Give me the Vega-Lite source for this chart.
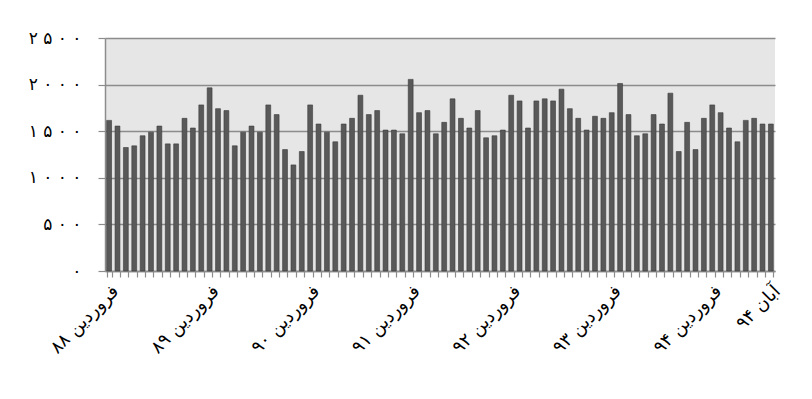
{
  "$schema": "https://vega.github.io/schema/vega-lite/v6.json",
  "width": 670,
  "height": 233,
  "autosize": "none",
  "padding": {"left": 105, "top": 38, "right": 37, "bottom": 128},
  "background": "white",
  "data": {
    "values": [
      {"month": "فروردین ۸۸", "value": 1616},
      {"month": "اردیبهشت ۸۸", "value": 1555},
      {"month": "خرداد ۸۸", "value": 1325},
      {"month": "تیر ۸۸", "value": 1343},
      {"month": "مرداد ۸۸", "value": 1451},
      {"month": "شهریور ۸۸", "value": 1490},
      {"month": "مهر ۸۸", "value": 1555},
      {"month": "آبان ۸۸", "value": 1364},
      {"month": "آذر ۸۸", "value": 1364},
      {"month": "دی ۸۸", "value": 1638},
      {"month": "بهمن ۸۸", "value": 1534},
      {"month": "اسفند ۸۸", "value": 1782},
      {"month": "فروردین ۸۹", "value": 1965},
      {"month": "اردیبهشت ۸۹", "value": 1742},
      {"month": "خرداد ۸۹", "value": 1721},
      {"month": "تیر ۸۹", "value": 1343},
      {"month": "مرداد ۸۹", "value": 1490},
      {"month": "شهریور ۸۹", "value": 1555},
      {"month": "مهر ۸۹", "value": 1490},
      {"month": "آبان ۸۹", "value": 1782},
      {"month": "آذر ۸۹", "value": 1678},
      {"month": "دی ۸۹", "value": 1303},
      {"month": "بهمن ۸۹", "value": 1138},
      {"month": "اسفند ۸۹", "value": 1282},
      {"month": "فروردین ۹۰", "value": 1782},
      {"month": "اردیبهشت ۹۰", "value": 1577},
      {"month": "خرداد ۹۰", "value": 1490},
      {"month": "تیر ۹۰", "value": 1386},
      {"month": "مرداد ۹۰", "value": 1577},
      {"month": "شهریور ۹۰", "value": 1638},
      {"month": "مهر ۹۰", "value": 1886},
      {"month": "آبان ۹۰", "value": 1678},
      {"month": "آذر ۹۰", "value": 1721},
      {"month": "دی ۹۰", "value": 1512},
      {"month": "بهمن ۹۰", "value": 1512},
      {"month": "اسفند ۹۰", "value": 1472},
      {"month": "فروردین ۹۱", "value": 2056},
      {"month": "اردیبهشت ۹۱", "value": 1699},
      {"month": "خرداد ۹۱", "value": 1721},
      {"month": "تیر ۹۱", "value": 1472},
      {"month": "مرداد ۹۱", "value": 1595},
      {"month": "شهریور ۹۱", "value": 1847},
      {"month": "مهر ۹۱", "value": 1638},
      {"month": "آبان ۹۱", "value": 1534},
      {"month": "آذر ۹۱", "value": 1721},
      {"month": "دی ۹۱", "value": 1429},
      {"month": "بهمن ۹۱", "value": 1451},
      {"month": "اسفند ۹۱", "value": 1512},
      {"month": "فروردین ۹۲", "value": 1886},
      {"month": "اردیبهشت ۹۲", "value": 1825},
      {"month": "خرداد ۹۲", "value": 1534},
      {"month": "تیر ۹۲", "value": 1825},
      {"month": "مرداد ۹۲", "value": 1847},
      {"month": "شهریور ۹۲", "value": 1825},
      {"month": "مهر ۹۲", "value": 1951},
      {"month": "آبان ۹۲", "value": 1742},
      {"month": "آذر ۹۲", "value": 1638},
      {"month": "دی ۹۲", "value": 1512},
      {"month": "بهمن ۹۲", "value": 1660},
      {"month": "اسفند ۹۲", "value": 1638},
      {"month": "فروردین ۹۳", "value": 1699},
      {"month": "اردیبهشت ۹۳", "value": 2012},
      {"month": "خرداد ۹۳", "value": 1678},
      {"month": "تیر ۹۳", "value": 1451},
      {"month": "مرداد ۹۳", "value": 1472},
      {"month": "شهریور ۹۳", "value": 1678},
      {"month": "مهر ۹۳", "value": 1577},
      {"month": "آبان ۹۳", "value": 1908},
      {"month": "آذر ۹۳", "value": 1282},
      {"month": "دی ۹۳", "value": 1595},
      {"month": "بهمن ۹۳", "value": 1303},
      {"month": "اسفند ۹۳", "value": 1638},
      {"month": "فروردین ۹۴", "value": 1782},
      {"month": "اردیبهشت ۹۴", "value": 1699},
      {"month": "خرداد ۹۴", "value": 1534},
      {"month": "تیر ۹۴", "value": 1386},
      {"month": "مرداد ۹۴", "value": 1616},
      {"month": "شهریور ۹۴", "value": 1638},
      {"month": "مهر ۹۴", "value": 1577},
      {"month": "آبان ۹۴", "value": 1577}
    ]
  },
  "mark": {"type": "bar", "color": "#595959", "stroke": "#3a3a3a", "strokeWidth": 0.6},
  "encoding": {
    "x": {
      "field": "month",
      "type": "nominal",
      "sort": null,
      "scale": {"paddingInner": 0.42, "paddingOuter": 0.2},
      "axis": {
        "title": null,
        "tickBand": "extent",
        "labelAngle": -45,
        "labelAlign": "right",
        "labelBaseline": "top",
        "labelFontSize": 18,
        "labelPadding": 5,
        "labelOverlap": false,
        "labelExpr": "indexof(datum.label, 'فروردین') === 0 || datum.label === 'آبان ۹۴' ? datum.label : ''",
        "tickSize": 6
      }
    },
    "y": {
      "field": "value",
      "type": "quantitative",
      "scale": {"domain": [0, 2500], "nice": false},
      "axis": {
        "title": null,
        "values": [0, 500, 1000, 1500, 2000, 2500],
        "grid": true,
        "labelFontSize": 17,
        "labelPadding": 17,
        "tickSize": 7,
        "labelExpr": "datum.value === 0 ? '۰' : datum.value === 500 ? '۵ ۰ ۰' : datum.value === 1000 ? '۱ ۰ ۰ ۰' : datum.value === 1500 ? '۱ ۵ ۰ ۰' : datum.value === 2000 ? '۲ ۰ ۰ ۰' : '۲ ۵ ۰ ۰'"
      }
    }
  },
  "config": {
    "view": {"fill": "#e6e6e6", "stroke": null},
    "axis": {
      "labelFont": "DejaVu Sans",
      "labelColor": "#000000",
      "domainColor": "#8c8c8c",
      "domainWidth": 1.5,
      "tickColor": "#8c8c8c",
      "tickWidth": 1.2,
      "gridColor": "#8c8c8c",
      "gridWidth": 1.5,
      "gridOpacity": 1
    }
  }
}
